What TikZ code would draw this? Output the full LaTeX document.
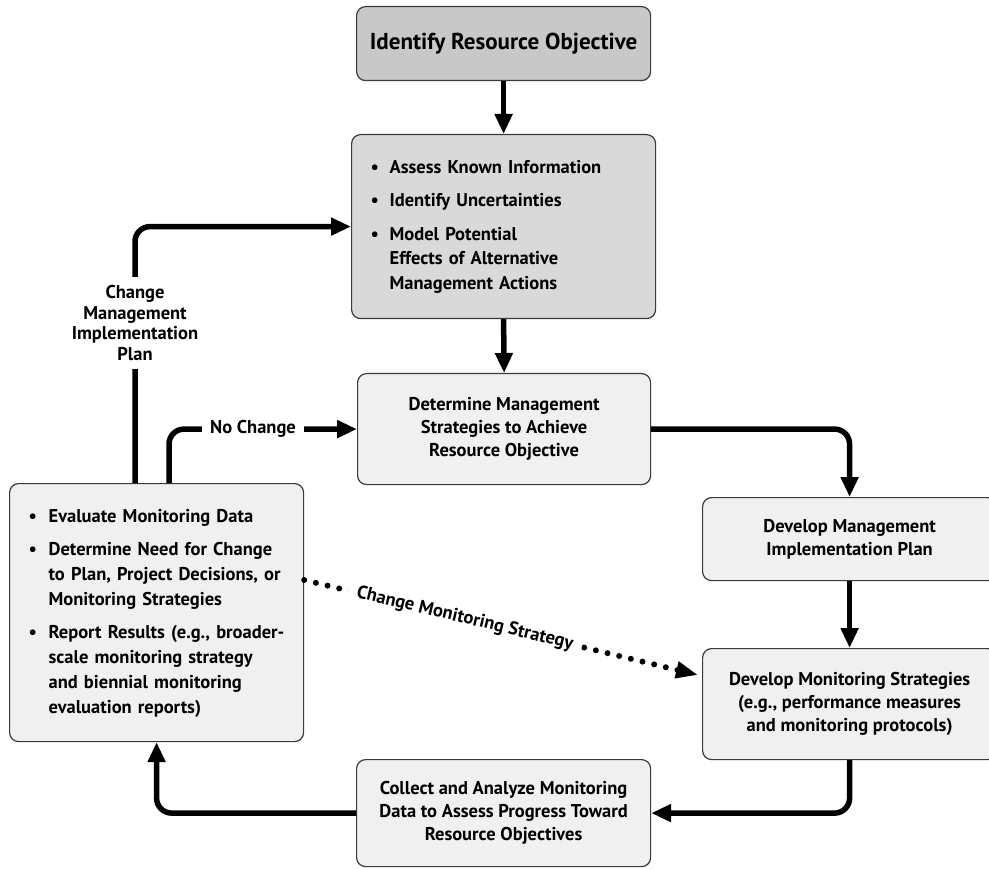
\documentclass[tikz,border=0pt]{standalone}
\usepackage{fontspec}
\setmainfont{PT Sans}
\usetikzlibrary{arrows.meta,calc}
\definecolor{darkfill}{HTML}{C8C8C8}
\definecolor{midfill}{HTML}{D9D9D9}
\definecolor{lightfill}{HTML}{F0F0F0}
\definecolor{edge}{HTML}{3A3A3A}
\begin{document}
\begin{tikzpicture}[x=1pt,y=-1pt,
  box/.style={draw=edge, line width=1.2pt, rounded corners=9pt, fill=lightfill,
    anchor=north west, minimum width=294pt, inner sep=0pt, align=center,
    font=\bfseries\fontsize{18.5}{23}\selectfont},
  listbox/.style={box, inner xsep=19pt, align=left},
  arr/.style={line width=5.5pt, rounded corners=15pt, -{Triangle[length=20pt,width=17pt]}},
  lbl/.style={fill=white, align=center, font=\bfseries\fontsize{18.5}{20.5}\selectfont},
  dotarr/.style={line width=6pt, line cap=round, dash pattern=on 0pt off 12pt,
    -{Triangle[length=22pt,width=16pt]}}
]
\useasboundingbox (0,0) rectangle (989,869);
\clip (0,0) rectangle (989,869);

\node[box, fill=darkfill, minimum height=74pt, font=\bfseries\fontsize{23}{26}\selectfont] (b1) at (356,6) {Identify Resource Objective};

\node[listbox, fill=midfill, minimum width=304pt, minimum height=184pt, text width=266pt] (b2) at (351,134) {%
\fontsize{18.5}{24.5}\selectfont
\begin{tabular}{@{}p{19pt}@{}l@{}}
\textbullet & Assess Known Information\\[9pt]
\textbullet & Identify Uncertainties\\[9pt]
\textbullet & Model Potential\\
 & Effects of Alternative\\
 & Management Actions
\end{tabular}};

\node[box, minimum width=293pt, minimum height=111pt] (b3) at (357,373) {Determine Management\\Strategies to Achieve\\Resource Objective};

\node[box, minimum height=83pt] (b5) at (702,497) {Develop Management\\Implementation Plan};

\node[box, minimum height=111pt] (b6) at (702,648) {Develop Monitoring Strategies\\(e.g., performance measures\\and monitoring protocols)};

\node[box, minimum height=107pt] (b7) at (356,759) {Collect and Analyze Monitoring\\Data to Assess Progress Toward\\Resource Objectives};

\node[listbox, minimum height=258pt, text width=256pt] (b4) at (9,483) {%
\fontsize{18.5}{25}\selectfont
\begin{tabular}{@{}p{20pt}@{}l@{}}
\textbullet & Evaluate Monitoring Data\\[8pt]
\textbullet & Determine Need for Change\\
 & to Plan, Project Decisions, or\\
 & Monitoring Strategies\\[8pt]
\textbullet & Report Results (e.g., broader-\\
 & scale monitoring strategy\\
 & and biennial monitoring\\
 & evaluation reports)
\end{tabular}};

\draw[arr] (b1.south) -- (b2.north);
\draw[arr] (b2.south) -- (b3.north);
\draw[arr] (b3.east) -| (b5.north);
\draw[arr] (b5.south) -- (b6.north);
\draw[arr] (b6.south) |- (b7.east);
\draw[arr] (b7.west) -| (b4.south);

\coordinate (cmstart) at ($(b4.north west)+(126,0)$);
\coordinate (ncstart) at ($(b4.north west)+(160,0)$);
\draw[arr] (cmstart) |- (b2.west);
\draw[arr] (ncstart) |- (b3.west);
\node[lbl, inner ysep=9pt, inner xsep=2pt] (cm) at (135,323) {Change\\Management\\Implementation\\Plan};
\node[lbl, inner xsep=8pt] (nc) at (253,429) {No Change};

\coordinate (dstart) at ($(b4.north east)+(0,97)$);
\coordinate (dend) at ($(b6.north west)+(-4,27)$);
\draw[dotarr] (dstart) -- (dend) node[pos=0.408, sloped, lbl, inner xsep=9pt] (cms) {Change Monitoring Strategy};
\end{tikzpicture}
\end{document}
